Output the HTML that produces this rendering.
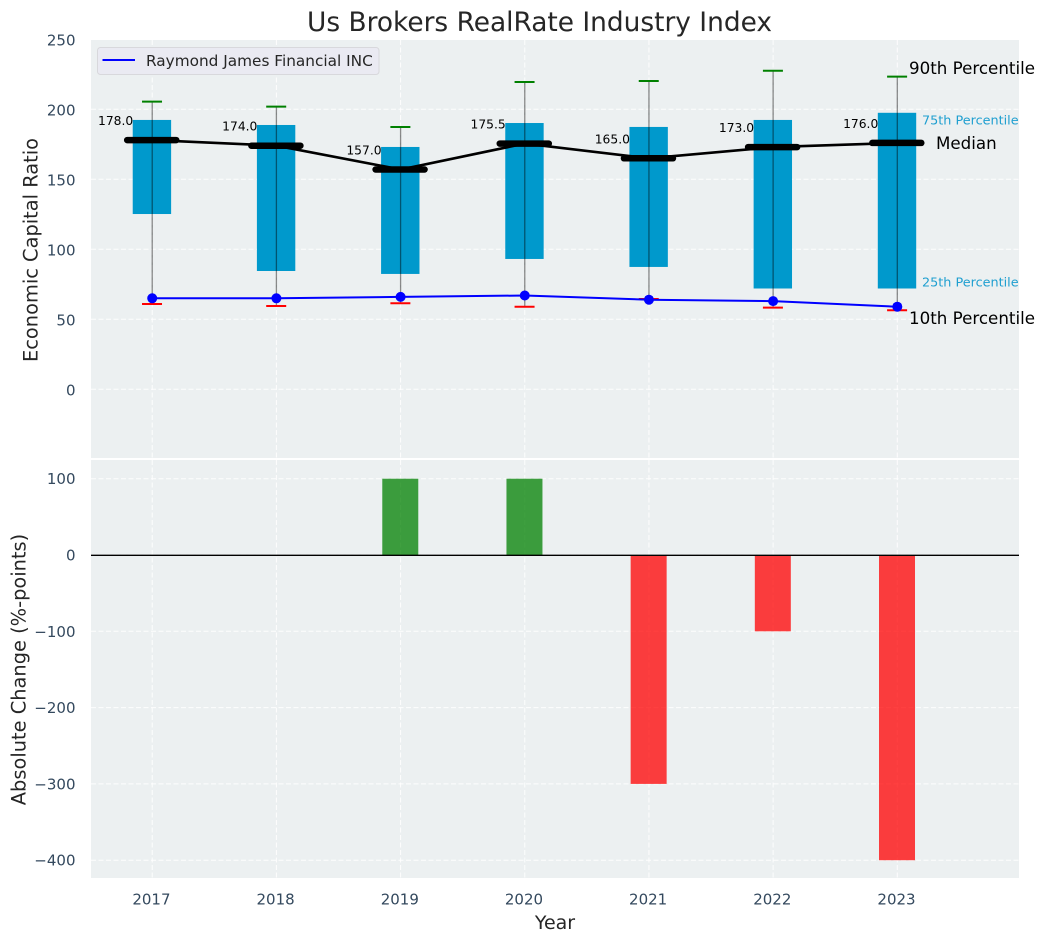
<!DOCTYPE html>
<html lang="en">
<head>
<meta charset="utf-8">
<title>Us Brokers RealRate Industry Index</title>
<style>
html,body{margin:0;padding:0;background:#fff;}
svg{display:block;font-family:"DejaVu Sans","Liberation Sans",sans-serif;}
</style>
</head>
<body>
<svg id="chart" xmlns="http://www.w3.org/2000/svg" width="1044" height="942" viewBox="0 0 1044 942">
  <rect x="0" y="0" width="1044" height="942" fill="#ffffff"/>
  <rect x="91" y="40" width="928" height="418" fill="#ecf0f1"/>
  <rect x="91" y="460" width="928" height="418" fill="#ecf0f1"/>
  <g id="grid"></g>
  <g id="boxes"></g>
  <g id="whiskers"></g>
  <g id="median"></g>
  <g id="company"></g>
  <g id="labels"></g>
  <g id="changes"></g>
  <line x1="91" x2="1019" y1="555.3" y2="555.3" stroke="#000" stroke-width="1.3"/>
  <g id="ticks"></g>

  <text x="539.5" y="31" text-anchor="middle" font-size="26.4" fill="#262626">Us Brokers RealRate Industry Index</text>
  <text transform="translate(37.5,250) rotate(-90)" text-anchor="middle" font-size="19.4" fill="#262626">Economic Capital Ratio</text>
  <text transform="translate(25.5,669.5) rotate(-90)" text-anchor="middle" font-size="19.4" fill="#262626">Absolute Change (%-points)</text>
  <text x="555" y="929" text-anchor="middle" font-size="19" fill="#262626">Year</text>

  <g>
    <rect x="97.5" y="47.5" width="281.5" height="27" rx="3" fill="#eaeaf2" stroke="#d8d8dc" stroke-width="1"/>
    <line x1="102.5" x2="135" y1="60" y2="60" stroke="#0000ff" stroke-width="2"/>
    <text x="146" y="66" font-size="15.3" fill="#262626">Raymond James Financial INC</text>
  </g>

  <text x="909" y="74" font-size="16.7" fill="#000">90th Percentile</text>
  <text x="922" y="124.5" font-size="12.8" fill="#1f9fd0">75th Percentile</text>
  <text x="936" y="149" font-size="16.7" fill="#000">Median</text>
  <text x="922" y="286.5" font-size="12.8" fill="#1f9fd0">25th Percentile</text>
  <text x="909" y="324" font-size="16.7" fill="#000">10th Percentile</text>
</svg>
<script>
const years = [2017, 2018, 2019, 2020, 2021, 2022, 2023];
const p90 = [205.5, 201.9, 187.4, 219.5, 220.2, 227.5, 223.3];
const p75 = [192.4, 188.8, 173.1, 190.2, 187.4, 192.4, 197.5];
const medians = [178, 174, 157, 175.5, 165, 173, 176];
const p25 = [125.2, 84.5, 82.4, 93.1, 87.4, 72, 72];
const p10 = [60.9, 59.5, 61.5, 59, 64.5, 58.3, 56.5];
const company = [65, 65, 66, 67, 64, 63, 59];
const absoluteChange = [0, 0, 100, 100, -300, -100, -400];
const medianLabels = ['178.0', '174.0', '157.0', '175.5', '165.0', '173.0', '176.0'];
const topTicks = [0, 50, 100, 150, 200, 250];
const bottomTicks = [100, 0, -100, -200, -300, -400];

const NS = 'http://www.w3.org/2000/svg';
const PLOT_LEFT = 91, PLOT_RIGHT = 1019;
const X_MIN = 2016.507, X_MAX = 2023.98;
const TOP_PLOT_TOP = 39.3, TOP_PLOT_BOTTOM = 458, TOP_MIN = -49.07, TOP_MAX = 250;
const BOT_PLOT_TOP = 460, BOT_PLOT_BOTTOM = 878, BOT_MIN = -423.3, BOT_MAX = 124.5;

function xScale(v) { return PLOT_LEFT + (v - X_MIN) / (X_MAX - X_MIN) * (PLOT_RIGHT - PLOT_LEFT); }
function yTop(v) { return TOP_PLOT_BOTTOM - (v - TOP_MIN) / (TOP_MAX - TOP_MIN) * (TOP_PLOT_BOTTOM - TOP_PLOT_TOP); }
function yBot(v) { return BOT_PLOT_BOTTOM - (v - BOT_MIN) / (BOT_MAX - BOT_MIN) * (BOT_PLOT_BOTTOM - BOT_PLOT_TOP); }

function mk(parentId, tag, attrs, text) {
  const el = document.createElementNS(NS, tag);
  for (const k in attrs) el.setAttribute(k, attrs[k]);
  if (text !== undefined) el.textContent = text;
  document.getElementById(parentId).appendChild(el);
  return el;
}
function gridStyle() { return { stroke: '#ffffff', 'stroke-width': 1, 'stroke-dasharray': '5 2.5', opacity: 0.9 }; }
function fmtTick(v) { return String(v).replace('-', '\u2212'); }

topTicks.forEach(function (t) {
  const g = mk('grid', 'line', Object.assign({ x1: PLOT_LEFT, x2: PLOT_RIGHT, y1: yTop(t), y2: yTop(t) }, gridStyle()));
  
  
  const l = mk('ticks', 'text', { x: 75.5, y: yTop(t) + 6, 'text-anchor': 'end', 'font-size': 15, fill: '#34495e' }, fmtTick(t));
  
  
});
bottomTicks.forEach(function (t) {
  const g = mk('grid', 'line', Object.assign({ x1: PLOT_LEFT, x2: PLOT_RIGHT, y1: yBot(t), y2: yBot(t) }, gridStyle()));
  
  
  const l = mk('ticks', 'text', { x: 75.5, y: yBot(t) + 5.5, 'text-anchor': 'end', 'font-size': 15, fill: '#34495e' }, fmtTick(t));
  
  
});

years.forEach(function (yr, i) {
  const cx = xScale(yr);
  const g1 = mk('grid', 'line', Object.assign({ x1: cx, x2: cx, y1: 40, y2: TOP_PLOT_BOTTOM }, gridStyle()));
  
  
  const g2 = mk('grid', 'line', Object.assign({ x1: cx, x2: cx, y1: BOT_PLOT_TOP, y2: BOT_PLOT_BOTTOM }, gridStyle()));
  
  

  const tick = mk('ticks', 'text', { x: cx - 0.8, y: 904.5, 'text-anchor': 'middle', 'font-size': 15, fill: '#34495e' }, String(yr));
  
  

  const box = mk('boxes', 'rect', { x: cx - 19.5, width: 38.4, y: yTop(p75[i]), height: yTop(p25[i]) - yTop(p75[i]), fill: '#0099cc' });
  
  

  const w = mk('whiskers', 'line', { x1: cx, x2: cx, y1: yTop(p90[i]), y2: yTop(p10[i]), stroke: '#000', 'stroke-opacity': 0.45, 'stroke-width': 1.3 });
  
  
  const hi = mk('whiskers', 'line', { x1: cx - 10.2, x2: cx + 9.8, y1: yTop(p90[i]), y2: yTop(p90[i]), stroke: '#008000', 'stroke-width': 2 });
  
  
  const lo = mk('whiskers', 'line', { x1: cx - 10.2, x2: cx + 9.8, y1: yTop(p10[i]), y2: yTop(p10[i]), stroke: '#ff0000', 'stroke-width': 2 });
  
  

  const m = mk('median', 'line', { x1: cx - 25, x2: cx + 24, y1: yTop(medians[i]), y2: yTop(medians[i]), stroke: '#000', 'stroke-width': 6.5, 'stroke-linecap': 'round' });
  
  

  const dot = mk('company', 'circle', { cx: cx, cy: yTop(company[i]), r: 5, fill: '#0000ff' });
  
  

  const lab = mk('labels', 'text', { x: cx - 19, y: yTop(medians[i]) - 15, 'text-anchor': 'end', 'font-size': 12.3, fill: '#000' }, medianLabels[i]);
  
  

  const v = absoluteChange[i];
  if (v !== 0) {
    const top = Math.min(yBot(0), yBot(v));
    const bar = mk('changes', 'rect', { x: cx - 18.3, width: 36, y: top, height: Math.abs(yBot(v) - yBot(0)), fill: v > 0 ? '#008000' : '#ff0000', 'fill-opacity': 0.75 });
    
    
  }
});

const medianLine = mk('median', 'polyline', { points: years.map(function (yr, i) { return xScale(yr) + ',' + yTop(medians[i]); }).join(' '), fill: 'none', stroke: '#000', 'stroke-width': 2.6 });



const companyLine = mk('company', 'polyline', { points: years.map(function (yr, i) { return xScale(yr) + ',' + yTop(company[i]); }).join(' '), fill: 'none', stroke: '#0000ff', 'stroke-width': 2 });


</script>
</body>
</html>
